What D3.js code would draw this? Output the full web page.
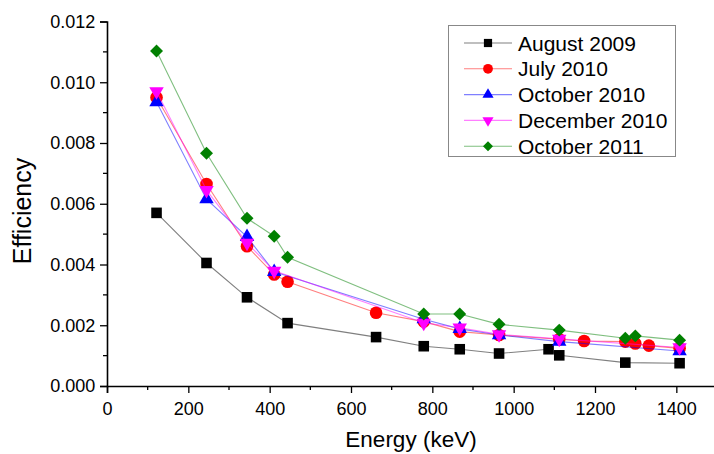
<!DOCTYPE html>
<html><head><meta charset="utf-8">
<script src="https://cdn.jsdelivr.net/npm/d3@7"></script>
<style>
body{margin:0;background:#fff;}
svg{display:block;font-family:"Liberation Sans",Arial,sans-serif;}
</style></head>
<body><svg id="c" width="714" height="454"></svg>
<script>
const seriesNames = ["August 2009","July 2010","October 2010","December 2010","October 2011"];
const seriesColors = ["#000000","#ff0000","#0000ff","#ff00ff","#008000"];
const seriesSymbols = ["square","circle","triangle","triangleDown","diamond"];

const energyAug2009 = [121.8,244.7,344.3,444.0,661.7,778.9,867.4,964.1,1085.8,1112.1,1274.5,1408.0];
const effAug2009    = [0.00570,0.00405,0.00292,0.00207,0.00161,0.00131,0.00121,0.00107,0.00121,0.00101,0.00077,0.00075];

const energyJul2010 = [121.8,244.7,344.3,411.1,444.0,661.7,778.9,867.4,964.1,1112.1,1173.2,1274.5,1299.1,1332.5,1408.0];
const effJul2010    = [0.00950,0.00665,0.00460,0.00367,0.00343,0.00241,0.00212,0.00179,0.00168,0.00154,0.00148,0.00146,0.00140,0.00133,0.00124];

const energyOct2010 = [121.8,244.7,344.3,411.1,778.9,867.4,964.1,1112.1,1408.0];
const effOct2010    = [0.00935,0.00615,0.00491,0.00376,0.00220,0.00188,0.00168,0.00146,0.00115];

const energyDec2010 = [121.8,244.7,344.3,411.1,778.9,867.4,964.1,1112.1,1408.0];
const effDec2010    = [0.00970,0.00645,0.00471,0.00379,0.00208,0.00192,0.00170,0.00155,0.00127];

const energyOct2011 = [121.8,244.7,344.3,411.1,444.0,778.9,867.4,964.1,1112.1,1274.5,1299.1,1408.0];
const effOct2011    = [0.01103,0.00766,0.00552,0.00493,0.00424,0.00237,0.00237,0.00203,0.00184,0.00157,0.00165,0.00151];

const xTicks = [0,200,400,600,800,1000,1200,1400];
const yTicks = [0.000,0.002,0.004,0.006,0.008,0.010,0.012];

const energies = [energyAug2009,energyJul2010,energyOct2010,energyDec2010,energyOct2011];
const effs = [effAug2009,effJul2010,effOct2010,effDec2010,effOct2011];

const svg = d3.select("#c");
const x = d3.scaleLinear().domain([0,1500]).range([107,717]);
const y = d3.scaleLinear().domain([0,0.012]).range([386,21.5]);

const symMap = {
  square: {type:d3.symbolSquare, size:112, rot:0},
  circle: {type:d3.symbolCircle, size:125, rot:0},
  triangle: {type:d3.symbolTriangle, size:90, rot:0},
  triangleDown: {type:d3.symbolTriangle, size:90, rot:180},
  diamond: {type:d3.symbolSquare, size:84, rot:45}
};

// axes
const fontSize = 18;
const xAxis = d3.axisBottom(x).tickValues(xTicks).tickSize(7).tickFormat(d3.format("d"));
const gx = svg.append("g").attr("transform","translate(0,386)").call(xAxis);
const xMinor = d3.range(100,1500,200);
gx.selectAll(".minor").data(xMinor).enter().append("line")
  .attr("x1",d=>x(d)).attr("x2",d=>x(d)).attr("y1",0).attr("y2",4).attr("stroke","#000").attr("stroke-width",1.3);

const yAxis = d3.axisLeft(y).tickValues(yTicks).tickSize(7).tickFormat(d3.format(".3f"));
const gy = svg.append("g").attr("transform","translate(107,0)").call(yAxis);
const yMinor = d3.range(0.001,0.012,0.002);
gy.selectAll(".minor").data(yMinor).enter().append("line")
  .attr("x1",0).attr("x2",-4).attr("y1",d=>y(d)).attr("y2",d=>y(d)).attr("stroke","#000").attr("stroke-width",1.3);

[gx,gy].forEach(g=>{
  g.select(".domain").attr("stroke","#000").attr("stroke-width",1.6);
  g.selectAll(".tick line").attr("stroke","#000").attr("stroke-width",1.3);
  g.selectAll("text").attr("font-size",fontSize).attr("font-family","Liberation Sans, Arial, sans-serif").attr("fill","#000");
});
gx.selectAll(".tick text").attr("dy","1.05em");
gy.selectAll(".tick text").attr("dx","-0.1em");

svg.append("text").attr("x",411).attr("y",447).attr("text-anchor","middle")
  .attr("font-size",22.5).text("Energy (keV)");
svg.append("text").attr("transform","translate(31,211) rotate(-90)").attr("text-anchor","middle")
  .attr("font-size",25).text("Efficiency");

const line = d3.line().x(d=>x(d[0])).y(d=>y(d[1]));
function drawSym(g, sym, color, cx, cy){
  const s = symMap[sym];
  g.append("path").attr("d", d3.symbol().type(s.type).size(s.size)())
    .attr("transform",`translate(${cx},${cy}) rotate(${s.rot})`)
    .attr("fill",color).attr("stroke","none");
}

seriesNames.forEach((name,i)=>{
  const pts = energies[i].map((e,j)=>[e,effs[i][j]]);
  const g = svg.append("g");
  g.append("path").datum(pts).attr("d",line).attr("fill","none")
    .attr("stroke",seriesColors[i]).attr("stroke-opacity",0.5).attr("stroke-width",1.1);
  pts.forEach(p=>drawSym(g, seriesSymbols[i], seriesColors[i], x(p[0]), y(p[1])));
});

// legend
const lg = svg.append("g");
lg.append("rect").attr("x",448.5).attr("y",25.5).attr("width",227).attr("height",131)
  .attr("fill","#fff").attr("stroke","#888").attr("stroke-width",1);
seriesNames.forEach((name,i)=>{
  const yy = 43 + i*25.8;
  lg.append("line").attr("x1",464).attr("x2",512).attr("y1",yy).attr("y2",yy)
    .attr("stroke",seriesColors[i]).attr("stroke-opacity",0.5).attr("stroke-width",1.1);
  const s = symMap[seriesSymbols[i]];
  lg.append("path").attr("d", d3.symbol().type(s.type).size(s.size*0.6)())
    .attr("transform",`translate(488,${yy}) rotate(${s.rot})`).attr("fill",seriesColors[i]);
  lg.append("text").attr("x",518).attr("y",yy+7.5).attr("font-size",21).attr("fill","#000").text(name);
});
</script></body></html>
